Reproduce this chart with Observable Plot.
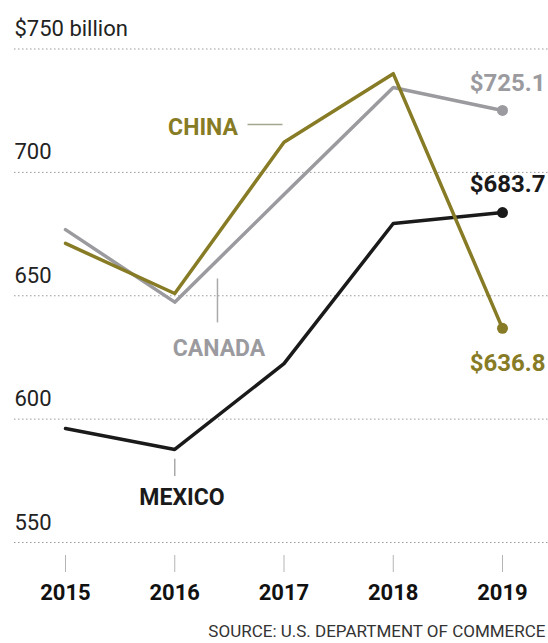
<!DOCTYPE html>
<html><head><meta charset="utf-8">
<script src="https://cdn.jsdelivr.net/npm/d3@7"></script>
<script src="https://cdn.jsdelivr.net/npm/@observablehq/plot@0.6"></script>
<style>body{margin:0;background:#fff}</style>
</head><body><div id="chart"></div>
<script>
const years = [2015, 2016, 2017, 2018, 2019];
const canada = [676.8, 647.4, 691.0, 734.4, 725.1];
const mexico = [596.2, 587.7, 622.5, 679.3, 683.7];
const china = [671.2, 650.9, 712.2, 740.0, 636.8];
const countries = ["Canada", "Mexico", "China"];
const colors = ["#9b9b9f", "#1a1a1a", "#877b25"];
const yTicks = [550, 600, 650, 700, 750];
const endLabels = ["$725.1", "$683.7", "$636.8"];
const nameLabels = ["CANADA", "MEXICO", "CHINA"];
// annotation anchors (data space)
const nameYears = [2016.405, 2016.066, 2016.259];
const nameValues = [628.6, 568.2, 718.2];
const leadX1 = [2016.391, 2016.0, 2016.666];
const leadX2 = [2016.391, 2016.0, 2016.986];
const leadY1 = [657.0, 583.9, 719.4];
const leadY2 = [639.2, 577.0, 719.4];
const leadColors = ["#a9a9ab", "#a9a9ab", "#a3a78f"];
const source = "SOURCE: U.S. DEPARTMENT OF COMMERCE";

const series = [canada, mexico, china];
const data = countries.flatMap((c, i) => years.map((y, j) => ({country: c, year: y, value: series[i][j]})));
const last = data.filter(d => d.year === 2019);
const idx = [0, 1, 2];
const endDy = [-27, -28, 35];

const chart = Plot.plot({
  width: 548, height: 643,
  marginLeft: 14, marginRight: 0, marginTop: 0, marginBottom: 88,
  x: {domain: [2015, 2019], range: [65, 502]},
  y: {domain: [550, 750], range: [542, 48.5], axis: null},
  color: {domain: countries, range: colors},
  style: {fontFamily: "Roboto, sans-serif", background: "#fff", color: "#1a1a1a"},
  marks: [
    Plot.gridY(yTicks, {stroke: "#9a9a9a", strokeOpacity: 1, strokeDasharray: "1.5,2.5", strokeWidth: 1}),
    Plot.text(yTicks, {y: d => d, text: d => d === 750 ? "$750 billion" : String(d), frameAnchor: "left", textAnchor: "start", lineAnchor: "middle", dy: -20, fontSize: 22, fill: "#222"}),
    Plot.axisX(years, {tickFormat: "d", tickSize: 17, tickPadding: 12, stroke: "#b5b5b5", fill: "#111", fontSize: 22, fontWeight: "bold", label: null}),
    Plot.link(idx, {x1: i => leadX1[i], x2: i => leadX2[i], y1: i => leadY1[i], y2: i => leadY2[i], stroke: i => leadColors[i], strokeWidth: 1.5}),
    Plot.line(data, {x: "year", y: "value", z: "country", stroke: "country", strokeWidth: 3.5}),
    Plot.dot(last, {x: "year", y: "value", fill: "country", r: 5.5}),
    ...countries.map((c, i) => Plot.text(last.filter(d => d.country === c), {y: "value", text: () => endLabels[i], frameAnchor: "right", textAnchor: "end", lineAnchor: "middle", dx: -3, dy: endDy[i], fill: "country", fontSize: 24, fontWeight: "bold"})),
    Plot.text(idx, {x: i => nameYears[i], y: i => nameValues[i], text: i => nameLabels[i], fill: i => countries[i], textAnchor: "middle", lineAnchor: "middle", fontSize: 23, fontWeight: "bold"}),
    Plot.text([source], {frameAnchor: "bottom-right", textAnchor: "end", lineAnchor: "middle", dx: -3, dy: 76, fontSize: 17, fill: "#333"})
  ]
});
document.getElementById("chart").appendChild(chart);
</script>
</body></html>
